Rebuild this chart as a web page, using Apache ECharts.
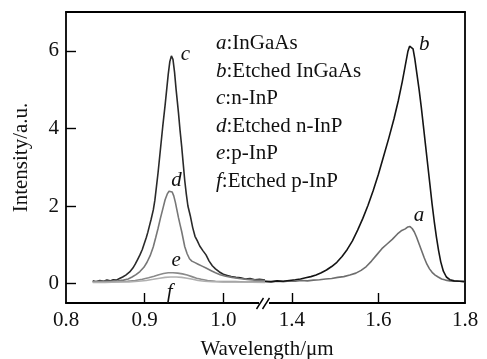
<!DOCTYPE html>
<html><head><meta charset="utf-8">
<script src="https://cdn.jsdelivr.net/npm/echarts@6/dist/echarts.min.js"></script>
<style>html,body{margin:0;padding:0;background:#fff}#c{width:487px;height:359px}</style>
</head><body><div id="c"></div>
<script>
// ---- data ----
var legendNames = ['a','b','c','d','e','f'];
var legendTexts = ['InGaAs','Etched InGaAs','n-InP','Etched n-InP','p-InP','Etched p-InP'];
var yTickValues = [0, 2, 4, 6];
var xLeftLabels = [0.8, 0.9, 1.0];
var xLeftTicks = [0.9, 1.0];
var xRightLabels = [1.4, 1.6, 1.8];
var xRightTicks = [1.4, 1.6];

// n-InP (c)
var cWl  = [0.834,0.838,0.843,0.848,0.852,0.856,0.860,0.864,0.868,0.872,0.876,0.881,0.885,0.888,0.891,0.894,0.897,0.899,0.902,0.904,0.906,0.908,0.911,0.913,0.915,0.917,0.919,0.921,0.923,0.926,0.928,0.930,0.932,0.934,0.936,0.938,0.940,0.943,0.945,0.947,0.949,0.951,0.953,0.955,0.958,0.961,0.964,0.967,0.970,0.974,0.978,0.982,0.986,0.990,0.995,1.000,1.005,1.010,1.016,1.022,1.028,1.034,1.040,1.046,1.053];
var cInt = [0.07,0.05,0.08,0.06,0.09,0.07,0.10,0.09,0.13,0.17,0.22,0.30,0.40,0.50,0.62,0.74,0.88,1.00,1.18,1.32,1.48,1.64,1.90,2.15,2.50,2.85,3.25,3.65,4.05,4.60,5.00,5.40,5.72,5.87,5.78,5.45,5.00,4.40,3.95,3.55,3.10,2.65,2.30,2.00,1.75,1.45,1.22,1.10,0.97,0.85,0.74,0.58,0.46,0.38,0.30,0.24,0.21,0.18,0.16,0.15,0.12,0.13,0.10,0.11,0.09];
// Etched n-InP (d)
var dWl  = [0.834,0.845,0.856,0.866,0.873,0.879,0.884,0.889,0.894,0.899,0.903,0.907,0.911,0.914,0.917,0.920,0.923,0.926,0.929,0.931,0.933,0.935,0.937,0.939,0.941,0.943,0.945,0.947,0.949,0.951,0.954,0.957,0.960,0.964,0.968,0.973,0.978,0.984,0.990,0.996,1.003,1.011,1.020,1.030,1.041,1.053];
var dInt = [0.05,0.06,0.05,0.07,0.09,0.12,0.17,0.23,0.31,0.42,0.55,0.72,0.95,1.18,1.42,1.68,1.92,2.16,2.32,2.38,2.40,2.36,2.26,2.10,1.90,1.70,1.52,1.35,1.15,0.95,0.77,0.64,0.58,0.54,0.50,0.45,0.40,0.34,0.28,0.23,0.19,0.16,0.13,0.11,0.09,0.08];
// p-InP (e)
var eWl  = [0.834,0.850,0.866,0.878,0.888,0.897,0.905,0.912,0.918,0.924,0.930,0.936,0.942,0.948,0.954,0.960,0.966,0.972,0.980,0.990,1.000,1.015,1.030,1.053];
var eInt = [0.04,0.05,0.05,0.06,0.08,0.11,0.15,0.19,0.23,0.26,0.28,0.28,0.27,0.25,0.22,0.18,0.14,0.11,0.08,0.06,0.05,0.05,0.04,0.05];
// Etched p-InP (f)
var fWl  = [0.834,0.850,0.866,0.880,0.892,0.902,0.911,0.919,0.926,0.933,0.940,0.947,0.954,0.961,0.968,0.976,0.986,1.000,1.020,1.053];
var fInt = [0.03,0.03,0.04,0.04,0.06,0.08,0.11,0.14,0.16,0.17,0.17,0.16,0.14,0.11,0.08,0.06,0.05,0.04,0.04,0.03];

// InGaAs (a)
var aWl  = [1.338,1.352,1.366,1.380,1.394,1.408,1.422,1.436,1.450,1.464,1.478,1.492,1.506,1.520,1.534,1.548,1.560,1.572,1.584,1.596,1.608,1.620,1.632,1.644,1.654,1.662,1.668,1.673,1.678,1.683,1.688,1.694,1.700,1.706,1.712,1.718,1.724,1.731,1.738,1.746,1.755,1.765,1.776,1.788,1.800];
var aInt = [0.05,0.04,0.06,0.05,0.07,0.06,0.08,0.07,0.09,0.10,0.12,0.13,0.16,0.18,0.22,0.27,0.34,0.44,0.58,0.74,0.90,1.02,1.14,1.28,1.37,1.41,1.46,1.47,1.42,1.33,1.20,1.02,0.84,0.66,0.50,0.38,0.29,0.22,0.17,0.12,0.09,0.07,0.06,0.06,0.05];
// Etched InGaAs (b)
var bWl  = [1.338,1.352,1.366,1.380,1.394,1.408,1.420,1.432,1.444,1.456,1.468,1.480,1.492,1.504,1.516,1.528,1.540,1.552,1.564,1.576,1.588,1.600,1.612,1.624,1.636,1.646,1.655,1.662,1.668,1.672,1.676,1.680,1.684,1.689,1.694,1.699,1.704,1.709,1.714,1.719,1.724,1.729,1.734,1.739,1.744,1.750,1.757,1.765,1.775,1.788,1.800];
var bInt = [0.06,0.05,0.07,0.06,0.08,0.10,0.12,0.15,0.18,0.22,0.28,0.35,0.44,0.55,0.70,0.88,1.10,1.38,1.68,2.02,2.40,2.82,3.28,3.75,4.25,4.72,5.20,5.62,5.98,6.12,6.17,6.05,5.80,5.40,5.00,4.55,4.05,3.55,3.05,2.55,2.05,1.60,1.20,0.85,0.56,0.32,0.17,0.10,0.07,0.06,0.05];

// ---- build ----
function pairs(xs, ys){ return xs.map(function(x,i){ return [x, ys[i]]; }); }
var FONT = 'Liberation Serif';
var FS = 21;
var INK = '#111';

function mkSeries(name, xs, ys, color, gi, off){
  return {
    name: name, type: 'line', xAxisIndex: gi, yAxisIndex: gi,
    data: pairs(xs, ys), showSymbol: false, symbol: 'none',
    lineStyle: {color: color, width: 1.6}, itemStyle: {color: color},
    smooth: false, animation: false, z: 3,
    markPoint: {
      symbol: 'circle', symbolSize: 0, silent: true, animation: false,
      label: {show: true, position: 'inside', formatter: name, offset: off,
        color: INK, fontFamily: FONT, fontStyle: 'italic', fontSize: FS},
      data: [{type: 'max'}]
    }
  };
}

var chart = echarts.init(document.getElementById('c'), null, {renderer: 'canvas'});
var axisLineStyle = {color: '#000', width: 1.8};
var labelStyle = {color: INK, fontFamily: FONT, fontSize: FS, margin: 7};

var option = {
  backgroundColor: '#fff',
  animation: false,
  grid: [
    {left: 66, right: 222, top: 12, bottom: 56},
    {left: 265, right: 22, top: 12, bottom: 56}
  ],
  legend: {
    data: legendNames, orient: 'vertical', left: 206, top: 28,
    icon: 'none', itemWidth: 0, itemHeight: 21, itemGap: 6.6,
    selectedMode: false,
    formatter: function(n){ return '{i|' + n + '}:' + legendTexts[legendNames.indexOf(n)]; },
    textStyle: {color: INK, fontFamily: FONT, fontSize: FS, lineHeight: 21,
      rich: {i: {fontStyle: 'italic', fontFamily: FONT, fontSize: FS, color: INK}}}
  },
  xAxis: [
    {gridIndex: 0, type: 'value', min: 0.8, max: 1.053,
      axisLine: {show: true, onZero: false, lineStyle: axisLineStyle},
      axisTick: {show: true, inside: true, length: 10, customValues: xLeftTicks, lineStyle: {color: '#000', width: 1.4}},
      axisLabel: Object.assign({customValues: xLeftLabels, formatter: function(v){ return v.toFixed(1); }}, labelStyle),
      splitLine: {show: false}},
    {gridIndex: 1, type: 'value', min: 1.338, max: 1.8,
      axisLine: {show: true, onZero: false, lineStyle: axisLineStyle},
      axisTick: {show: true, inside: true, length: 10, customValues: xRightTicks, lineStyle: {color: '#000', width: 1.4}},
      axisLabel: Object.assign({customValues: xRightLabels, formatter: function(v){ return v.toFixed(1); }}, labelStyle),
      splitLine: {show: false}},
    {gridIndex: 0, type: 'value', position: 'top', min: 0.8, max: 1.053,
      axisLine: {show: true, onZero: false, lineStyle: axisLineStyle},
      axisTick: {show: false}, axisLabel: {show: false}, splitLine: {show: false}},
    {gridIndex: 1, type: 'value', position: 'top', min: 1.338, max: 1.8,
      axisLine: {show: true, onZero: false, lineStyle: axisLineStyle},
      axisTick: {show: false}, axisLabel: {show: false}, splitLine: {show: false}}
  ],
  yAxis: [
    {gridIndex: 0, type: 'value', min: -0.5, max: 7,
      name: 'Intensity/a.u.', nameLocation: 'middle', nameGap: 34,
      nameTextStyle: {color: INK, fontFamily: FONT, fontSize: FS},
      axisLine: {show: true, onZero: false, lineStyle: axisLineStyle},
      axisTick: {show: true, inside: true, length: 10, customValues: yTickValues, lineStyle: {color: '#000', width: 1.4}},
      axisLabel: Object.assign({customValues: yTickValues}, labelStyle),
      splitLine: {show: false}},
    {gridIndex: 1, type: 'value', min: -0.5, max: 7, position: 'right',
      axisLine: {show: true, onZero: false, lineStyle: axisLineStyle},
      axisTick: {show: false}, axisLabel: {show: false}, splitLine: {show: false}}
  ],
  series: [
    mkSeries('a', aWl, aInt, '#6e6e6e', 1, [9, -11]),
    mkSeries('b', bWl, bInt, '#141414', 1, [13, 0]),
    mkSeries('c', cWl, cInt, '#2a2a2a', 0, [14, -1]),
    mkSeries('d', dWl, dInt, '#777777', 0, [6, -10]),
    mkSeries('e', eWl, eInt, '#8a8a8a', 0, [8, -12]),
    mkSeries('f', fWl, fInt, '#b0b0b0', 0, [-1, 15])
  ],
  graphic: [
    {type: 'rect', z: 100, shape: {x: 259, y: 299, width: 10, height: 8}, style: {fill: '#fff'}},
    {type: 'line', z: 101, shape: {x1: 256.5, y1: 309, x2: 263.5, y2: 298}, style: {stroke: '#000', lineWidth: 1.4}},
    {type: 'line', z: 101, shape: {x1: 262.5, y1: 309, x2: 269.5, y2: 298}, style: {stroke: '#000', lineWidth: 1.4}},
    {type: 'text', z: 100, x: 267, y: 349, style: {text: 'Wavelength/\u03bcm', fill: INK, font: FS + 'px "' + FONT + '"', textAlign: 'center', textVerticalAlign: 'middle'}}
  ]
};
chart.setOption(option);
</script>
</body></html>
